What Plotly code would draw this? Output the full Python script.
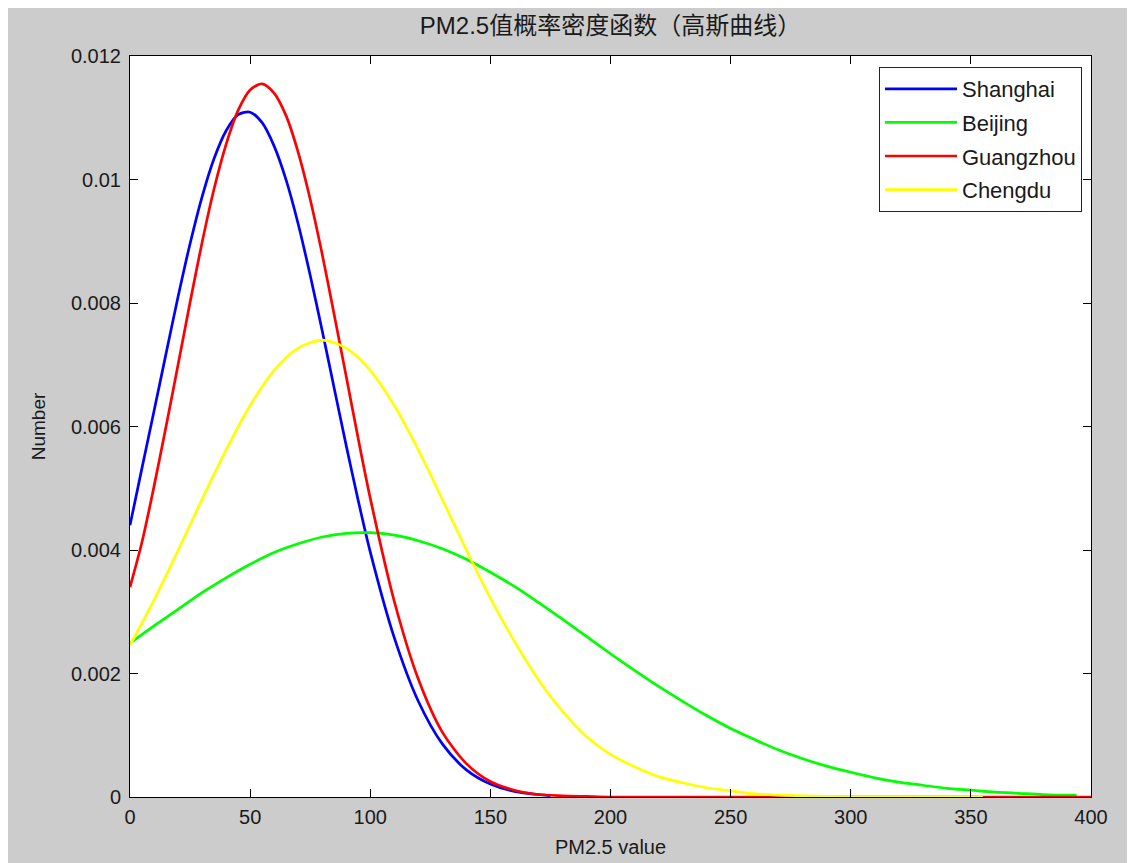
import plotly.graph_objects as go

# ---- data ----
sh_x = [0, 5, 10, 15, 20, 25, 30, 35, 40, 45, 50, 55, 60, 65, 70, 75, 80, 85, 90, 95, 100,
        110, 120, 130, 140, 150, 160, 170, 175]
sh_y = [0.00440, 0.00533, 0.00625, 0.00718, 0.00810, 0.00896, 0.00972, 0.01034, 0.01079, 0.01105,
        0.01109, 0.01092, 0.01054, 0.00999, 0.00928, 0.00845, 0.00755, 0.00662, 0.00569, 0.00480,
        0.00397, 0.00258, 0.00155, 0.00086, 0.00044, 0.00021, 0.00009, 0.00004, 0.00002]

bj_x = [0, 10, 20, 30, 40, 50, 60, 70, 80, 90, 100, 110, 120, 130, 140, 150, 160, 170, 180, 190,
        200, 210, 220, 230, 240, 250, 260, 270, 280, 290, 300, 310, 320, 330, 340, 350, 360, 370,
        380, 390, 394]
bj_y = [0.00249, 0.00277, 0.00304, 0.00331, 0.00355, 0.00377, 0.00396, 0.00410, 0.00421, 0.00427,
        0.00428, 0.00424, 0.00415, 0.00402, 0.00385, 0.00364, 0.00341, 0.00315, 0.00288, 0.00260,
        0.00232, 0.00205, 0.00179, 0.00155, 0.00132, 0.00111, 0.00093, 0.00076, 0.00062, 0.00050,
        0.00040, 0.00031, 0.00024, 0.00019, 0.00014, 0.00011, 0.00008, 0.00006, 0.00004, 0.00003,
        0.00003]

gz_x = [0, 5, 10, 15, 20, 25, 30, 35, 40, 45, 50, 55, 60, 65, 70, 75, 80, 85, 90, 95, 100,
        110, 120, 130, 140, 150, 160, 170, 180, 190, 200, 250, 300, 350, 400]
gz_y = [0.00340, 0.00413, 0.00503, 0.00600, 0.00700, 0.00801, 0.00898, 0.00985, 0.01057, 0.01112,
        0.01145, 0.01155, 0.01140, 0.01103, 0.01044, 0.00968, 0.00879, 0.00781, 0.00681, 0.00580,
        0.00484, 0.00317, 0.00191, 0.00105, 0.00054, 0.00025, 0.00011, 0.00004, 0.00002, 0.00001,
        0.0, 0.0, 0.0, 0.0, 0.0]

cd_x = [0, 10, 20, 30, 40, 50, 60, 70, 80, 90, 100, 110, 120, 130, 140, 150, 160, 170, 180, 190,
        200, 210, 220, 230, 240, 250, 260, 270, 280, 290, 300, 355]
cd_y = [0.00246, 0.00319, 0.00399, 0.00482, 0.00562, 0.00634, 0.00691, 0.00727, 0.00740, 0.00727,
        0.00691, 0.00634, 0.00562, 0.00482, 0.00400, 0.00322, 0.00252, 0.00190, 0.00139, 0.00098,
        0.00069, 0.00049, 0.00033, 0.00023, 0.00015, 0.00010, 0.00005, 0.00003, 0.00002, 0.00001,
        0.0, 0.0]

names = ["Shanghai", "Beijing", "Guangzhou", "Chengdu"]
colors = ["#0000ff", "#00ff00", "#ff0000", "#ffff00"]

x_ticks = [0, 50, 100, 150, 200, 250, 300, 350, 400]
y_ticks = [0, 0.002, 0.004, 0.006, 0.008, 0.010, 0.012]
y_tick_text = ["0", "0.002", "0.004", "0.006", "0.008", "0.01", "0.012"]

title_text = "PM2.5值概率密度函数（高斯曲线）"
x_title = "PM2.5 value"
y_title = "Number"

FONT = "Liberation Sans, Arial, Noto Sans CJK SC, sans-serif"
TXT = "#1a1a1a"

fig = go.Figure()
for xs, ys, nm, col in zip([sh_x, bj_x, gz_x, cd_x], [sh_y, bj_y, gz_y, cd_y], names, colors):
    fig.add_trace(go.Scatter(
        x=xs, y=ys, mode="lines", name=nm, legendgroup=nm,
        line=dict(color=col, width=2.7, shape="spline", smoothing=0.8),
    ))

axis_common = dict(
    showline=True, linecolor="black", linewidth=1, mirror="ticks",
    ticks="inside", ticklen=8, tickcolor="black", tickwidth=1,
    showgrid=False, zeroline=False, automargin=False,
    tickfont=dict(family=FONT, size=20, color=TXT),
)

fig.update_xaxes(range=[0, 400], tickvals=x_ticks, ticklabelstandoff=2, **axis_common,
                 title=dict(text=x_title, font=dict(family=FONT, size=20, color=TXT), standoff=12))
fig.update_yaxes(range=[0, 0.012], tickvals=y_ticks, ticktext=y_tick_text, ticklabelstandoff=4,
                 **axis_common,
                 title=dict(text=y_title, font=dict(family=FONT, size=19, color=TXT), standoff=20))

# page has an 8px body margin, so the figure is drawn at (8, 8)
W, H = 1127, 855
L, T = 122, 48
R, B = 44, 66
pw, ph = W - L - R, H - T - B
def px(xp):
    return (xp - 8 - L) / pw
def py(yp):
    return (H - B - (yp - 8)) / ph

fig.update_layout(
    width=W, height=H,
    margin=dict(l=L, r=R, t=T, b=B, pad=0, autoexpand=False),
    paper_bgcolor="#cccccc",
    plot_bgcolor="white",
    title=dict(text=title_text, x=0.5, xref="paper", xanchor="center",
               y=1 - 18 / H, yanchor="middle",
               font=dict(family=FONT, size=24, color=TXT)),
    showlegend=True,
    legend=dict(
        x=px(1082), y=py(67), xanchor="right", yanchor="top",
        bgcolor="white", bordercolor="#222222", borderwidth=1,
        font=dict(family=FONT, size=22, color=TXT),
        tracegroupgap=2, itemwidth=72,
    ),
)

fig.write_html("out.html")
